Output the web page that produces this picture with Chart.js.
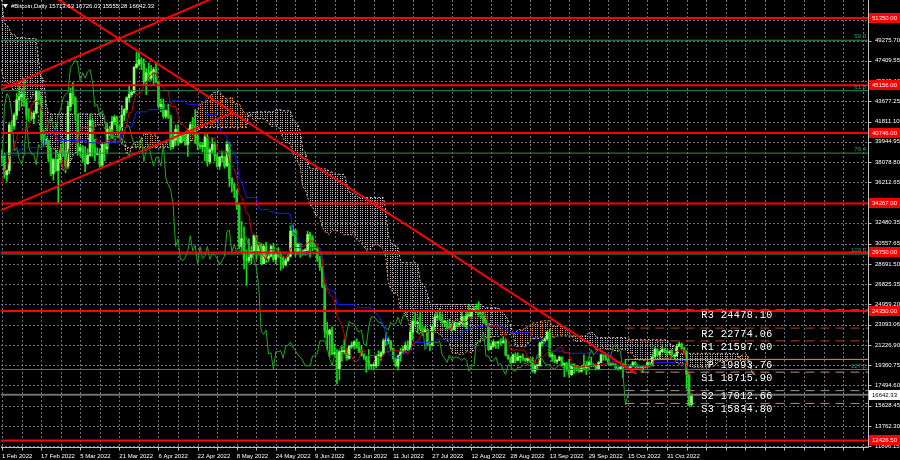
<!DOCTYPE html>
<html lang="en">
<head>
  <meta charset="UTF-8">
  <title>#Bitcoin,Daily</title>
  <script src="https://cdn.jsdelivr.net/npm/chart.js@4.4.1/dist/chart.umd.min.js"></script>
  <style>
    html, body { margin: 0; padding: 0; background: #000; }
    #chart { display: block; }
  </style>
</head>
<body>
  <canvas id="chart" width="900" height="460"></canvas>

  <script>
    // day 0 = 1 Feb 2022; the first 78 days (15 Nov 2021 - 31 Jan 2022) only feed the Ichimoku
    const firstDay = -78;

    const closes = [
      63600, 60400, 60400, 56900, 58100, 59700, 58700, 56300, 57600, 57200, 58900, 53600, 54800, 57300, 57800, 57000,
      57200, 56500, 53600, 49200, 49400, 50600, 50500, 50600, 47700, 47200, 49400, 50100, 46700, 48400, 48900, 47600, 46200, 46800, 46700, 46900, 49000, 48600, 50800, 50400, 50800, 50600, 50600, 47600, 46500, 47100, 46300,
      47700, 47300, 46500, 45900, 43500, 43100, 41600, 41800, 41900, 41800, 42700, 43900, 42600, 43100, 43200, 43100, 42300, 42400, 41700, 40700, 36500, 35100, 36300, 36700, 36900, 36800, 37200, 37700, 38200, 37900, 38500,
      // Feb 2022
      38700, 36900, 37300, 41500, 41400, 42400, 43800, 44100, 44300, 43600, 42400, 42200, 42100, 42600, 44600, 43900, 40700, 40100, 40100, 38400, 37000, 38300, 37300, 38300, 39200, 39100, 37700, 43200,
      // Mar
      44400, 44000, 42500, 39100, 39400, 38400, 37900, 38700, 41900, 39400, 38800, 38800, 37800, 39700, 39300, 41100, 40900, 41800, 42200, 41300, 41000, 42400, 42900, 44000, 44300, 44500, 46800, 47100, 47500, 47100, 45500,
      // Apr
      46300, 45800, 46400, 46600, 45500, 43200, 43400, 42300, 42800, 42200, 39500, 40100, 41100, 39900, 40500, 40400, 39700, 40800, 41500, 41400, 40500, 39700, 39500, 39500, 40400, 38100, 39200, 39700, 38600, 37700,
      // May
      38500, 38500, 37700, 39700, 36600, 36000, 35500, 34100, 30300, 31000, 29100, 29000, 29300, 29900, 31300, 29900, 30400, 28700, 30300, 29200, 29400, 30300, 29100, 29600, 29500, 29200, 28600, 29000, 29400, 31700, 31800,
      // Jun
      29800, 30500, 29700, 29900, 29900, 31400, 31100, 30200, 30100, 29100, 28400, 26600, 22500, 22200, 22600, 20400, 20500, 19000, 20600, 20600, 20700, 20000, 21100, 21200, 21500, 21000, 20700, 20300, 20100, 19800,
      // Jul
      19300, 19300, 19300, 20200, 20200, 20500, 21600, 21600, 21600, 20900, 20000, 19300, 20200, 20600, 20800, 21200, 20800, 22400, 23400, 23200, 23200, 22700, 22400, 22600, 21300, 21200, 22900, 23800, 23800, 23600, 23300,
      // Aug
      23300, 22900, 22800, 22600, 23300, 23100, 23200, 23800, 23100, 23900, 23900, 24400, 24400, 24300, 24100, 23900, 23300, 23200, 20800, 21100, 21500, 21400, 21500, 21400, 21600, 20300, 20000, 19600, 20300, 19800, 20100,
      // Sep
      20100, 20000, 19800, 20000, 19800, 18800, 19300, 19300, 21400, 21600, 21800, 22400, 20200, 20200, 19700, 19800, 20100, 19400, 19500, 18900, 18500, 19400, 19300, 18900, 18800, 19200, 19100, 19400, 19600, 19400,
      // Oct
      19300, 19000, 19600, 20300, 20200, 19900, 19500, 19400, 19400, 19100, 19000, 19200, 19400, 19200, 19100, 19300, 19600, 19300, 19100, 19000, 19200, 19200, 19600, 19300, 20100, 20800, 20300, 20600, 20800, 20600, 20500,
      // Nov
      20500, 20200, 20200, 21100, 21300, 20900, 20600, 18500, 15713.63, 16642.33
    ];

    const highs = [
      66300, 63600, 61000, 60900, 58300, 59800, 60000, 59300, 57800, 57700, 59400, 59100, 55300, 57400, 58800, 59200,
      59000, 57400, 57600, 53900, 49700, 50900, 51900, 51200, 50800, 50100, 49500, 50700, 50200, 48700, 49500, 49300, 48000, 47300, 48300, 47500, 49300, 49500, 51300, 51800, 51000, 51300, 52000, 50600, 48100, 47900, 48500,
      47800, 47900, 47500, 47400, 47000, 43700, 43100, 42300, 42800, 42200, 43100, 44300, 44400, 43400, 43700, 43500, 43200, 42600, 42500, 43400, 41100, 36800, 36500, 37500, 37500, 38900, 37900, 38000, 38700, 38300, 38700,
      39200, 38900, 37400, 41700, 41900, 42600, 44400, 45400, 44800, 45800, 43900, 43000, 42700, 42800, 44700, 44600, 44200, 40900, 40400, 40100, 39400, 38400, 39200, 38900, 39600, 40200, 39800, 43700,
      44900, 45400, 44100, 42500, 39600, 39600, 39500, 39300, 42500, 42000, 40200, 39400, 39300, 39900, 39900, 41700, 41400, 42300, 42400, 42300, 41500, 43300, 43000, 44100, 45100, 44700, 46900, 48200, 48100, 47700, 47600,
      46700, 47200, 47000, 46800, 47200, 45500, 43900, 43900, 42900, 43400, 42400, 40700, 41500, 41500, 40800, 40700, 40600, 41100, 41700, 42200, 42900, 40800, 39900, 39900, 40600, 40700, 39400, 40300, 39900, 38800,
      38600, 39100, 38600, 40000, 39800, 36600, 36100, 35500, 34200, 32600, 32100, 30000, 31000, 30300, 31400, 31300, 30700, 30600, 30500, 30700, 29600, 30400, 30600, 29800, 30200, 29800, 29400, 29200, 29500, 32200, 32300,
      31900, 30600, 30600, 30000, 30100, 31700, 31600, 31300, 30600, 30300, 29400, 28500, 26900, 23300, 22700, 22900, 21300, 20800, 20700, 21000, 21700, 20900, 21200, 21500, 21600, 21800, 21500, 21200, 20400, 20200,
      20800, 19400, 19600, 20300, 20700, 20600, 21800, 22400, 21900, 21600, 20900, 20000, 20300, 20900, 21100, 21500, 21600, 22700, 23700, 24200, 23400, 24200, 22900, 22900, 22600, 21300, 23000, 24100, 24400, 24600, 24100,
      23500, 23400, 23600, 23200, 23400, 23300, 23400, 24200, 23900, 24200, 24900, 24500, 24800, 25000, 25200, 24200, 24400, 23600, 23200, 21400, 21700, 21500, 21600, 21800, 22000, 21800, 20300, 20100, 20400, 20500, 20500,
      20200, 20400, 20000, 20100, 20000, 20100, 19400, 19400, 21500, 21700, 21900, 22500, 22700, 20500, 20300, 19900, 20200, 20100, 19600, 19600, 19900, 19500, 19500, 19300, 19200, 19300, 20300, 19700, 19700, 20100,
      19500, 19400, 19700, 20400, 20300, 20400, 20000, 19600, 19500, 19500, 19200, 19300, 19500, 19900, 19200, 19400, 19700, 19700, 19400, 19300, 19300, 19300, 19700, 19600, 20400, 21000, 20900, 20700, 21000, 20900, 20800,
      20700, 20800, 20400, 21300, 21500, 21400, 21000, 20700, 18600, 16726.03
    ];

    const lows = [
      63500, 58600, 58400, 56500, 55600, 57400, 58500, 55800, 55400, 55900, 57000, 53500, 53600, 53300, 56800, 56400,
      56500, 55900, 52000, 42000, 47700, 47100, 50000, 48700, 47400, 46900, 46800, 48700, 45800, 46300, 46600, 47500, 45500, 45600, 46400, 45600, 46700, 48500, 48100, 50300, 50200, 49500, 50500, 47400, 46200, 46100, 45700,
      46200, 46700, 45700, 45600, 42600, 42500, 40700, 40600, 41300, 39700, 41300, 42500, 42300, 41800, 42700, 42700, 41600, 41300, 41200, 40600, 35800, 34000, 34700, 33000, 35800, 36300, 35500, 36200, 37500, 37400, 36700,
      38100, 36600, 36300, 37000, 40900, 41100, 42000, 42800, 43200, 43200, 42000, 41800, 41900, 41600, 42500, 43400, 40100, 39500, 39700, 38100, 36800, 36400, 37200, 34300, 38000, 38600, 37100, 37500,
      42800, 43400, 41900, 38700, 38600, 38100, 37200, 37900, 38600, 38600, 38200, 38700, 37600, 37600, 38200, 38900, 40500, 40200, 41500, 40900, 40500, 40900, 41900, 42600, 43600, 44100, 44400, 46700, 46900, 46600, 45200,
      44300, 45600, 45600, 45200, 45400, 43100, 42700, 42100, 42100, 42100, 39200, 39300, 39600, 39600, 39800, 40000, 39600, 38600, 40600, 40900, 39800, 39200, 39300, 39000, 38200, 37700, 37900, 38900, 38200, 37600,
      37400, 38100, 37500, 37700, 35800, 35300, 34800, 33700, 30100, 29800, 28200, 26700, 28800, 28700, 29500, 29100, 29500, 28600, 28700, 28800, 28900, 29300, 28900, 28700, 29300, 28100, 28300, 28500, 28900, 29300, 31300,
      29400, 29600, 29300, 29500, 29500, 29900, 29300, 29900, 30000, 28900, 28100, 26500, 21900, 20800, 20100, 20300, 20300, 17600, 18000, 19700, 20400, 19800, 19900, 20900, 20900, 20900, 20500, 20200, 19900, 18700,
      19000, 19000, 18900, 19100, 19300, 19800, 20300, 21200, 21300, 20700, 19900, 19200, 18900, 19700, 20400, 20500, 20700, 20800, 21700, 23000, 22300, 22600, 22100, 22400, 21200, 20700, 21100, 22600, 23500, 23500, 23200,
      22900, 22700, 22700, 22500, 22600, 22900, 22900, 23200, 22900, 22700, 23800, 23600, 24300, 24200, 23800, 23700, 23200, 23100, 20700, 20800, 21000, 20900, 20900, 21200, 21400, 20200, 19900, 19500, 19600, 19600, 19800,
      19600, 19800, 19700, 19600, 19600, 18700, 18600, 19000, 19300, 21100, 21400, 21600, 20100, 19700, 19600, 19500, 19800, 19300, 18300, 18800, 18200, 18400, 18600, 18800, 18700, 18700, 18900, 18500, 18900, 19200,
      19200, 18900, 19000, 19600, 19800, 19800, 19400, 19300, 19300, 19000, 18900, 19000, 18200, 19100, 19000, 19100, 19200, 19100, 19000, 18900, 18700, 19100, 19100, 19200, 19300, 20100, 20200, 20000, 20600, 20500, 20200,
      20300, 20100, 20000, 20200, 21100, 20800, 20400, 17200, 15600, 15555.28
    ];

    const dateLabels = ['1 Feb 2022', '17 Feb 2022', '5 Mar 2022', '21 Mar 2022', '6 Apr 2022', '22 Apr 2022',
      '8 May 2022', '24 May 2022', '9 Jun 2022', '25 Jun 2022', '11 Jul 2022', '27 Jul 2022', '12 Aug 2022',
      '28 Aug 2022', '13 Sep 2022', '29 Sep 2022', '15 Oct 2022', '31 Oct 2022'];

    const priceTicks = [11896.15, 13762.30, 15628.45, 17494.60, 19360.75, 21226.90, 23093.06, 24959.20,
      26825.35, 28691.50, 30557.65, 32480.35, 34346.50, 36212.65, 38078.80, 39944.95, 41811.10, 43677.25,
      45543.40, 47409.55, 49275.70, 51141.85];

    // horizontal support / resistance levels
    const redLevels = [51350.00, 45156.00, 40746.00, 34267.00, 29750.00, 24350.00, 12426.50];

    // fibonacci grid
    const fibNames = ['50.0', '61.8', '76.4', '100.0', '127.0'];
    const fibPrices = [49300, 44651, 38898, 29600, 18962];

    // monthly pivot points
    const pivotNames = ['R3', 'R2', 'R1', 'P', 'S1', 'S2', 'S3'];
    const pivotPrices = [24478.10, 22774.06, 21597.00, 19893.76, 18715.90, 17012.66, 15834.80];

    // trend lines as [day, price] pairs
    const trendLines = [
      [[-1, 44710], [86, 53150]],
      [[-1, 33580], [94.5, 42630]],
      [[22.9, 53060], [259.5, 18560]]
    ];

    const lastPrice = closes[closes.length - 1];

    // axis window
    const xMin = -0.41, xMax = 354.2;
    const yMin = 11818, yMax = 53009;
    const pivotFrom = 255, pivotLabelAt = 286;

    // --- ichimoku 9/26/52 ---
    function mid(i, len) {
      let hi = -Infinity, lo = Infinity;
      for (let k = i - len + 1; k <= i; k++) {
        hi = Math.max(hi, highs[k]);
        lo = Math.min(lo, lows[k]);
      }
      return (hi + lo) / 2;
    }
    const tenkan = [], kijun = [], chikou = [], spanA = [], spanB = [];
    for (let i = 0; i < closes.length; i++) {
      const day = i + firstDay;
      if (i >= 8 && day >= -1) tenkan.push({ x: day, y: mid(i, 9) });
      if (i >= 25 && day >= -1) kijun.push({ x: day, y: mid(i, 26) });
      if (i >= 51) {
        spanA.push({ x: day + 26, y: (mid(i, 9) + mid(i, 26)) / 2 });
        spanB.push({ x: day + 26, y: mid(i, 52) });
      }
      if (day - 26 >= -1) chikou.push({ x: day - 26, y: closes[i] });
    }

    // candles
    const wicks = [], bodies = [];
    for (let i = 1; i < closes.length; i++) {
      const day = i + firstDay;
      if (day < 0) continue;
      wicks.push({ x: day, y: [lows[i], highs[i]] });
      bodies.push({ x: day, y: [closes[i - 1], closes[i]] });
    }

    function dotPattern(color) {
      const c = document.createElement('canvas');
      c.width = 5; c.height = 2;
      const g = c.getContext('2d');
      g.fillStyle = color;
      g.fillRect(0, 0, 1, 1);
      g.fillRect(2, 0, 1, 1);
      return g.createPattern(c, 'repeat');
    }

    function hline(v, color, width, dash, from) {
      return {
        type: 'line',
        data: [{ x: from === undefined ? xMin : from, y: v }, { x: xMax, y: v }],
        borderColor: color, borderWidth: width, borderDash: dash || [],
        pointRadius: 0, fill: false
      };
    }
    function line(points, color, width, dash) {
      return {
        type: 'line', data: points, borderColor: color, borderWidth: width,
        borderDash: dash || [], pointRadius: 0, fill: false, tension: 0
      };
    }

    const datasets = [];
    trendLines.forEach(t => datasets.push(line(t.map(p => ({ x: p[0], y: p[1] })), '#ff0000', 2)));
    redLevels.forEach(v => datasets.push(hline(v, '#ff0000', 2)));
    pivotPrices.forEach((v, i) => {
      const name = pivotNames[i];
      if (name === 'P') datasets.push(hline(v, '#d9a21b', 1, [], pivotFrom));
      else if (name[0] === 'R') datasets.push(hline(v, '#b2401f', 1, [9, 6], pivotFrom));
      else datasets.push(hline(v, '#b98a86', 1, [9, 6], pivotFrom));
    });
    fibPrices.forEach(v => datasets.push(hline(v, '#2f8f4f', 1)));
    datasets.push(hline(lastPrice, '#707070', 2));
    datasets.push(line(tenkan, '#cc0000', 1));
    datasets.push(line(kijun, '#1a1aff', 1));
    datasets.push(line(chikou, '#20a820', 1));
    datasets.push({
      type: 'bar', data: bodies, grouped: false, barThickness: 2, minBarLength: 1,
      borderWidth: 0, borderSkipped: false,
      backgroundColor: c => (c.raw && c.raw.y[1] >= c.raw.y[0]) ? '#8cff6e' : '#1fcf1f'
    });
    datasets.push({
      type: 'bar', data: wicks, grouped: false, barThickness: 1,
      borderWidth: 0, borderSkipped: false, backgroundColor: '#10e010'
    });
    const spanBIndex = datasets.length + 1;
    datasets.push({
      type: 'line', data: spanA, borderColor: '#f4a460', borderWidth: 1, borderDash: [2, 2],
      pointRadius: 0, tension: 0,
      fill: { target: spanBIndex, above: dotPattern('rgba(244,164,96,0.95)'), below: dotPattern('rgba(225,215,225,0.85)') }
    });
    datasets.push({
      type: 'line', data: spanB, borderColor: '#d8c8d8', borderWidth: 1, borderDash: [2, 2],
      pointRadius: 0, tension: 0, fill: false
    });

    const axisFont = { family: '"Liberation Sans", Arial, sans-serif', size: 6 };
    const gridColor = '#6e6e7c';
    const frameColor = '#c0c0c0';

    // dotted grid at the scale ticks, drawn under the data
    const gridLines = {
      id: 'gridLines',
      beforeDatasetsDraw(chart) {
        const { ctx, chartArea: a, scales: { x, y } } = chart;
        ctx.save();
        ctx.strokeStyle = gridColor;
        ctx.lineWidth = 1;
        ctx.setLineDash([2, 2]);
        ctx.beginPath();
        x.ticks.forEach(t => {
          const px = Math.round(x.getPixelForValue(t.value)) + 0.5;
          ctx.moveTo(px, a.top); ctx.lineTo(px, a.bottom);
        });
        y.ticks.forEach(t => {
          const py = Math.round(y.getPixelForValue(t.value)) + 0.5;
          ctx.moveTo(a.left, py); ctx.lineTo(a.right, py);
        });
        ctx.stroke();
        ctx.restore();
      }
    };

    const overlay = {
      id: 'overlay',
      afterDraw(chart) {
        const { ctx, chartArea, scales: { x, y } } = chart;
        ctx.save();

        // frame and tick marks
        ctx.strokeStyle = frameColor;
        ctx.lineWidth = 1;
        ctx.beginPath();
        const r = Math.round(chartArea.right) + 0.5, b = Math.round(chartArea.bottom) + 0.5;
        ctx.moveTo(r, chartArea.top); ctx.lineTo(r, b); ctx.lineTo(chartArea.left, b);
        x.ticks.forEach(t => {
          const px = Math.round(x.getPixelForValue(t.value)) + 0.5;
          ctx.moveTo(px, b); ctx.lineTo(px, b + 3);
        });
        y.ticks.forEach(t => {
          const py = Math.round(y.getPixelForValue(t.value)) + 0.5;
          ctx.moveTo(r, py); ctx.lineTo(r + 3, py);
        });
        ctx.stroke();

        ctx.font = '6px "Liberation Sans", Arial, sans-serif';
        ctx.textBaseline = 'middle';

        // header
        ctx.fillStyle = '#ffffff';
        ctx.beginPath();
        ctx.moveTo(3, 4); ctx.lineTo(8, 4); ctx.lineTo(5.5, 8); ctx.closePath(); ctx.fill();
        const n = closes.length - 1;
        ctx.fillText('#Bitcoin,Daily ' + [closes[n - 1], highs[n], lows[n], closes[n]].map(v => v.toFixed(2)).join(' '), 11, 6.5);

        // fibonacci labels
        ctx.fillStyle = '#2f9f55';
        ctx.textAlign = 'right';
        ctx.textBaseline = 'bottom';
        fibPrices.forEach((v, i) => ctx.fillText(fibNames[i], chartArea.right - 2, y.getPixelForValue(v) - 0.5));

        // pivot labels
        ctx.fillStyle = '#ffffff';
        ctx.textAlign = 'left';
        ctx.textBaseline = 'top';
        ctx.font = '10px "Liberation Mono", "DejaVu Sans Mono", monospace';
        if ('letterSpacing' in ctx) ctx.letterSpacing = '0.5px';
        const px = x.getPixelForValue(pivotLabelAt);
        pivotPrices.forEach((v, i) => {
          ctx.fillText(pivotNames[i].padStart(2) + ' ' + v.toFixed(2), px, y.getPixelForValue(v) + 1);
        });
        if ('letterSpacing' in ctx) ctx.letterSpacing = '0px';

        // price tags on the axis
        ctx.font = '6px "Liberation Sans", Arial, sans-serif';
        ctx.textBaseline = 'middle';
        const tag = (v, bg, fg) => {
          const py = Math.round(y.getPixelForValue(v));
          ctx.fillStyle = bg;
          ctx.fillRect(chartArea.right + 1, py - 5, 900 - chartArea.right - 1, 10);
          ctx.fillStyle = fg;
          ctx.fillText(v.toFixed(2), chartArea.right + 4, py + 0.5);
        };
        redLevels.forEach(v => tag(v, '#ff0000', '#ffffff'));
        tag(lastPrice, '#ffffff', '#000000');
        ctx.restore();
      }
    };

    new Chart(document.getElementById('chart'), {
      type: 'bar',
      data: { datasets: datasets },
      plugins: [gridLines, overlay],
      options: {
        responsive: false,
        animation: false,
        devicePixelRatio: 1,
        layout: { padding: { left: 1, top: 0, right: 0, bottom: 0 } },
        plugins: { legend: { display: false }, tooltip: { enabled: false } },
        scales: {
          x: {
            type: 'linear', min: xMin, max: xMax, offset: false,
            afterBuildTicks: s => {
              const t = [];
              for (let d = 0; d <= xMax; d += 8) t.push({ value: d });
              s.ticks = t;
            },
            afterFit: s => {
              s.height = 13;
              s.paddingLeft = 0; s.paddingRight = 0;
            },
            grid: { display: false, offset: false, tickLength: 3 },
            border: { display: false },
            ticks: {
              color: '#ffffff', font: axisFont, padding: 3, align: 'start',
              autoSkip: false, maxRotation: 0, minRotation: 0,
              callback: v => (v % 16 === 0 && dateLabels[v / 16]) ? dateLabels[v / 16] : ''
            }
          },
          y: {
            type: 'linear', position: 'right', min: yMin, max: yMax,
            afterBuildTicks: s => { s.ticks = priceTicks.map(v => ({ value: v })); },
            afterFit: s => {
              s.width = 32;
              s.paddingTop = 0; s.paddingBottom = 0;
            },
            grid: { display: false, tickLength: 3 },
            border: { display: false },
            ticks: { color: '#ffffff', font: axisFont, padding: 4, callback: v => v.toFixed(2) }
          }
        }
      }
    });
  </script>
</body>
</html>
